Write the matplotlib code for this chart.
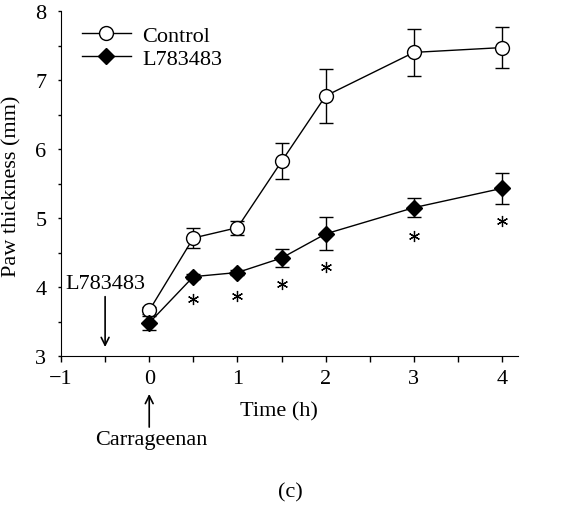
import matplotlib
matplotlib.use("Agg")
import matplotlib.pyplot as plt
from matplotlib.ticker import MultipleLocator
from matplotlib.lines import Line2D

time_h = [0, 0.5, 1, 1.5, 2, 3, 4]
control = [3.66, 4.71, 4.86, 5.82, 6.77, 7.40, 7.47]
control_err = [0.05, 0.14, 0.10, 0.26, 0.39, 0.34, 0.30]
l783483 = [3.48, 4.15, 4.21, 4.42, 4.77, 5.15, 5.43]
l783483_err = [0.10, 0.04, 0.04, 0.13, 0.24, 0.14, 0.22]
star_time = [0.5, 1, 1.5, 2, 3, 4]
star_y = [3.83, 3.87, 4.05, 4.29, 4.74, 4.95]

FS = 16
plt.rcParams['font.family'] = ['Liberation Serif', 'DejaVu Serif']
plt.rcParams['font.size'] = FS
plt.rcParams['axes.unicode_minus'] = True

fig = plt.figure(figsize=(5.82, 5.06), dpi=100)
ax = fig.add_axes([61/582, 1-357/506, 457/582, 345/506])

ax.errorbar(time_h, control, yerr=control_err, color='black', lw=1.0,
            marker='o', ms=10, mfc='white', mec='black', mew=1.0,
            capsize=5, elinewidth=1.0, capthick=1.0, zorder=3)
ax.errorbar(time_h, l783483, yerr=l783483_err, color='black', lw=1.0,
            marker='D', ms=8.5, mfc='black', mec='black',
            capsize=5, elinewidth=1.0, capthick=1.0, zorder=4)
ax.plot(star_time, star_y, ls='none', marker=(6, 2, 0), ms=8, mew=0.9,
        color='black')

ax.set_xlim(-1, 4.18)
ax.set_ylim(3, 8)
ax.xaxis.set_major_locator(MultipleLocator(1))
ax.xaxis.set_minor_locator(MultipleLocator(0.5))
ax.yaxis.set_major_locator(MultipleLocator(1))
ax.yaxis.set_minor_locator(MultipleLocator(0.5))
ax.tick_params(axis='x', which='both', direction='out', length=4, width=1,
               labelsize=FS, pad=5)
ax.tick_params(axis='y', which='both', direction='out', length=2.5, width=1,
               labelsize=FS, pad=8)
ax.spines['top'].set_visible(False)
ax.spines['right'].set_visible(False)

fig.text(12/582, 1-186/506, 'Paw thickness (mm)', rotation=90,
         ha='center', va='center', fontsize=FS)
fig.text(279/582, 1-412/506, 'Time (h)', ha='center', va='center', fontsize=FS)

handles = [
    Line2D([], [], color='black', lw=1.0, marker='o', ms=10, mfc='white',
           mec='black', mew=1.0),
    Line2D([], [], color='black', lw=1.0, marker='D', ms=8.5, mfc='black',
           mec='black'),
]
ax.legend(handles, ['Control', 'L783483'], loc='upper left',
          bbox_to_anchor=(0.002, 1.016), frameon=False,
          handlelength=2.2, handletextpad=0.5, labelspacing=0.1,
          fontsize=FS, numpoints=1)

ax.annotate('', xy=(-0.5, 3.13), xytext=(-0.5, 3.86),
            arrowprops=dict(arrowstyle='->', lw=1.2, color='black',
                            mutation_scale=14, shrinkA=0, shrinkB=0))
ax.text(-0.5, 4.05, 'L783483', ha='center', va='center', fontsize=FS)

tr = ax.get_xaxis_transform()
ax.annotate('', xy=(0, -0.110), xytext=(0, -0.206), xycoords=tr, textcoords=tr,
            arrowprops=dict(arrowstyle='->', lw=1.2, color='black',
                            mutation_scale=14, shrinkA=0, shrinkB=0),
            annotation_clip=False)
fig.text(151/582, 1-441/506, 'Carrageenan', ha='center', va='center',
         fontsize=FS)

fig.text(290/582, 1-493/506, '(c)', ha='center', va='center', fontsize=FS)

fig.savefig('out.png', dpi=100)
